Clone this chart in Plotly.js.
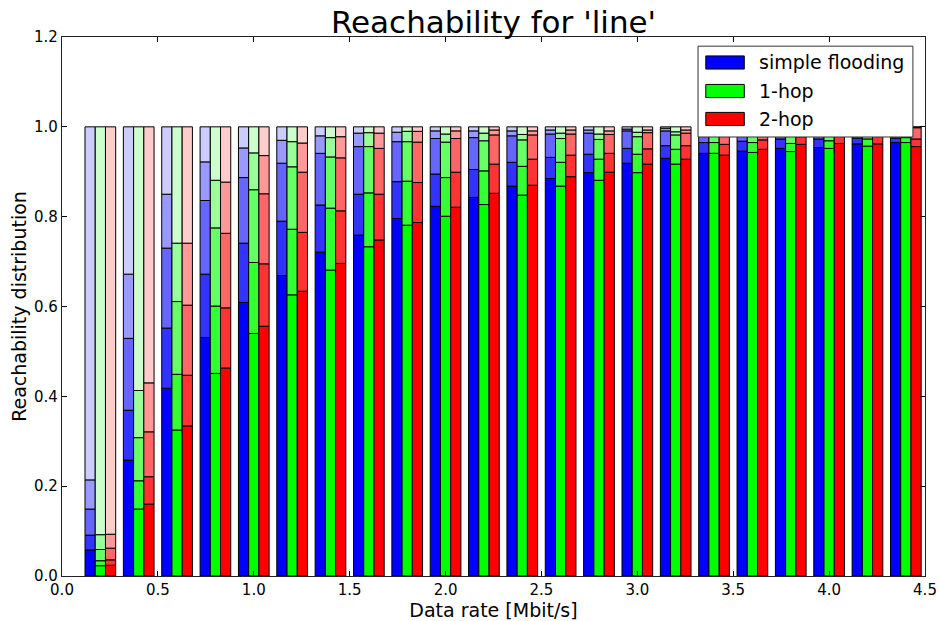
<!DOCTYPE html>
<html>
<head>
<meta charset="utf-8">
<script src="https://cdn.plot.ly/plotly-3.0.1.min.js"></script>
<style>html,body{margin:0;padding:0;background:#fff;}#chart{width:939px;height:621px;}</style>
</head>
<body>
<div id="chart"></div>
<script>
// Data rates (group positions)
const dataRates = [0.2,0.4,0.6,0.8,1.0,1.2,1.4,1.6,1.8,2.0,2.2,2.4,2.6,2.8,3.0,3.2,3.4,3.6,3.8,4.0,4.2,4.4];
const seriesNames = ['simple flooding', '1-hop', '2-hop'];
const topValue = 1.0;

// Cumulative boundaries between the five shaded levels (darkest at bottom)
const floodB1 = [0.058,0.258,0.418,0.531,0.609,0.669,0.721,0.759,0.796,0.823,0.843,0.868,0.885,0.898,0.919,0.930,0.941,0.946,0.952,0.954,0.962,0.965];
const floodB2 = [0.091,0.369,0.552,0.672,0.741,0.790,0.826,0.850,0.878,0.895,0.905,0.921,0.932,0.939,0.952,0.958,0.965,0.968,0.973,0.973,0.975,0.975];
const floodB3 = [0.149,0.529,0.730,0.836,0.887,0.919,0.941,0.956,0.967,0.974,0.976,0.980,0.984,0.986,0.991,0.991,0.992,0.993,0.994,0.994,0.995,0.995];
const floodB4 = [0.214,0.672,0.850,0.922,0.953,0.970,0.980,0.986,0.988,0.991,0.991,0.991,0.993,0.993,0.995,0.997,0.997,0.997,0.998,0.998,0.998,0.998];

const hop1B1 = [0.023,0.149,0.325,0.451,0.540,0.626,0.681,0.733,0.781,0.801,0.827,0.848,0.868,0.881,0.898,0.917,0.941,0.943,0.945,0.952,0.957,0.965];
const hop1B2 = [0.034,0.212,0.449,0.601,0.698,0.772,0.819,0.853,0.879,0.887,0.902,0.912,0.921,0.928,0.939,0.950,0.965,0.965,0.963,0.969,0.973,0.976];
const hop1B3 = [0.059,0.308,0.611,0.775,0.860,0.911,0.933,0.956,0.967,0.966,0.969,0.971,0.974,0.972,0.978,0.982,0.985,0.986,0.986,0.988,0.989,0.990];
const hop1B4 = [0.092,0.413,0.741,0.881,0.942,0.967,0.976,0.987,0.990,0.984,0.986,0.983,0.986,0.984,0.988,0.989,0.991,0.992,0.992,0.993,0.994,0.995];

const hop2B1 = [0.024,0.160,0.334,0.463,0.556,0.634,0.696,0.748,0.787,0.821,0.852,0.870,0.889,0.899,0.917,0.928,0.937,0.950,0.961,0.963,0.962,0.956];
const hop2B2 = [0.036,0.221,0.447,0.597,0.695,0.765,0.813,0.850,0.876,0.899,0.917,0.928,0.937,0.941,0.951,0.958,0.961,0.971,0.978,0.980,0.982,0.973];
const hop2B3 = [0.062,0.321,0.603,0.763,0.851,0.899,0.931,0.952,0.966,0.974,0.982,0.982,0.984,0.983,0.987,0.986,0.988,0.990,0.992,0.993,0.994,0.998];
const hop2B4 = [0.093,0.430,0.741,0.877,0.936,0.964,0.978,0.986,0.990,0.991,0.993,0.991,0.993,0.991,0.993,0.993,0.994,0.995,0.996,0.997,0.997,0.999];

const levelColors = [
  ['#0000ff','#3333ff','#6666ff','#9999ff','#ccccff'],
  ['#00ff00','#33ff33','#66ff66','#99ff99','#ccffcc'],
  ['#ff0000','#ff3333','#ff6666','#ff9999','#ffcccc']
];

const seriesBounds = [
  [floodB1, floodB2, floodB3, floodB4],
  [hop1B1, hop1B2, hop1B3, hop1B4],
  [hop2B1, hop2B2, hop2B3, hop2B4]
];

const groupWidth = 0.16;
const barW = groupWidth / 3;
const traces = [];
seriesBounds.forEach((bounds, k) => {
  for (let j = 0; j < 5; j++) {
    const base = dataRates.map((_, i) => j === 0 ? 0 : bounds[j-1][i]);
    const top = dataRates.map((_, i) => j === 4 ? topValue : bounds[j][i]);
    traces.push({
      type: 'bar',
      x: dataRates,
      y: top.map((t, i) => t - base[i]),
      base: base,
      width: barW,
      offset: -groupWidth/2 + k*barW,
      marker: {color: levelColors[k][j], line: {color: '#000', width: 1}},
      name: seriesNames[k],
      showlegend: false,
      hoverinfo: 'skip'
    });
  }
});

// Custom matplotlib-like legend
const legX0 = 0.737, legX1 = 0.986, legY0 = 0.8145, legY1 = 0.983;
const patchX0 = 0.746, patchX1 = 0.7906;
const rowCenters = [0.9527, 0.8998, 0.8479];
const patchHalf = 0.0122;
const shapes = [{type:'rect', xref:'paper', yref:'paper', x0:legX0, x1:legX1, y0:legY0, y1:legY1,
  fillcolor:'#fff', line:{color:'#333', width:1}, layer:'above'}];
const annotations = [];
seriesNames.forEach((nm, k) => {
  shapes.push({type:'rect', xref:'paper', yref:'paper', x0:patchX0, x1:patchX1,
    y0:rowCenters[k]-patchHalf, y1:rowCenters[k]+patchHalf,
    fillcolor: levelColors[k][0], line:{color:'#000', width:1}, layer:'above'});
  annotations.push({xref:'paper', yref:'paper', x:0.8055, y:rowCenters[k], xanchor:'left', yanchor:'middle',
    text: nm, showarrow:false, font:{family:'DejaVu Sans', size:19, color:'#000'}});
});

const axisCommon = {
  showgrid:false, zeroline:false, showline:true, linecolor:'#222', linewidth:1.2,
  mirror:'allticks', ticks:'inside', ticklen:5, tickcolor:'#000', tickwidth:1,
  tickfont:{family:'DejaVu Sans', size:15, color:'#000'}, tickformat:'.1f'
};

const layout = {
  width:939, height:621,
  margin:{l:62, r:14, t:37, b:45, pad:0},
  paper_bgcolor:'#fff', plot_bgcolor:'#fff',
  barmode:'overlay',
  font:{family:'DejaVu Sans', color:'#000'},
  title:{text:"Reachability for 'line'", font:{family:'DejaVu Sans', size:31, color:'#000'},
    x:0.5, xref:'paper', y:1, yref:'paper', yanchor:'bottom', pad:{b:4}},
  xaxis:Object.assign({}, axisCommon, {range:[0,4.5], dtick:0.5, tick0:0,
    title:{text:'Data rate [Mbit/s]', font:{family:'DejaVu Sans', size:19, color:'#000'}, standoff:4}}),
  yaxis:Object.assign({}, axisCommon, {range:[0,1.2], dtick:0.2, tick0:0,
    title:{text:'Reachability distribution', font:{family:'DejaVu Sans', size:19, color:'#000'}, standoff:2}}),
  shapes: shapes,
  annotations: annotations
};

Plotly.newPlot('chart', traces, layout, {staticPlot:true, displayModeBar:false});
</script>
</body>
</html>
